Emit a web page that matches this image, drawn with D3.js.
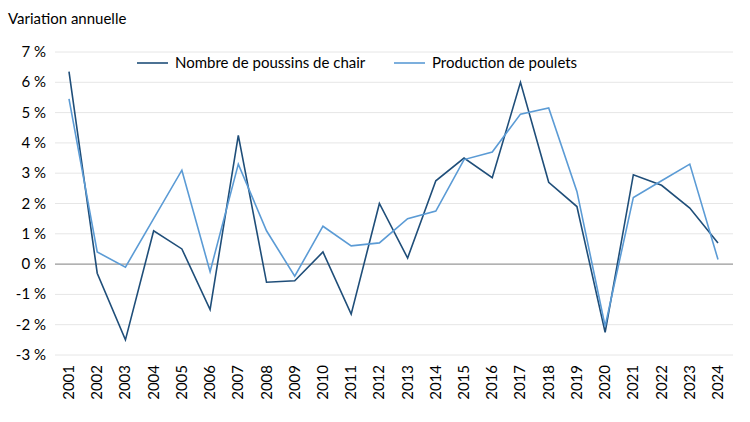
<!DOCTYPE html>
<html><head><meta charset="utf-8">
<script src="https://cdn.jsdelivr.net/npm/d3@7"></script>
<style>body{margin:0;background:#fff}text{font-family:Lato,"Noto Sans",sans-serif;fill:#000}</style>
</head><body><svg id="c" width="750" height="422"></svg>
<script>
"use strict";
const years = d3.range(2001, 2025).map(String);
const poussins = [6.35,-0.3,-2.5,1.1,0.5,-1.5,4.25,-0.6,-0.55,0.4,-1.65,2.0,0.2,2.75,3.5,2.85,6.0,2.7,1.9,-2.25,2.95,2.6,1.85,0.7];
const poulets = [5.45,0.4,-0.1,1.5,3.1,-0.25,3.3,1.1,-0.4,1.25,0.6,0.7,1.5,1.75,3.45,3.7,4.95,5.15,2.4,-2.05,2.2,2.75,3.3,0.15];
const yTicks = d3.range(-3, 8);
const series = [
  {name:'Nombre de poussins de chair', values:poussins, color:'#1f4e79'},
  {name:'Production de poulets', values:poulets, color:'#5b9bd5'}
];

const svg = d3.select('#c');
const x = d3.scalePoint().domain(years).range([69, 718]);
const y = d3.scaleLinear().domain([-3, 7]).range([355, 52]);

// grille
svg.selectAll('line.g').data(yTicks).enter().append('line')
  .attr('x1', 55).attr('x2', 733)
  .attr('y1', d=>y(d)).attr('y2', d=>y(d))
  .attr('stroke', d=>d===0 ? '#7f7f7f' : '#e6e6e6').attr('stroke-width', 1);

svg.selectAll('text.yl').data(yTicks).enter().append('text')
  .attr('x', 46).attr('y', d=>y(d)+5).attr('text-anchor','end')
  .style('font-size','15px').text(d=>d+' %');

svg.selectAll('text.xl').data(years).enter().append('text')
  .attr('transform', d=>`translate(${x(d)+5},365) rotate(-90)`)
  .attr('text-anchor','end').style('font-size','15px').text(d=>d);

svg.append('text').attr('x', 8).attr('y', 24).style('font-size','15px').text('Variation annuelle');

const line = d3.line().x((d,i)=>x(years[i])).y(d=>y(d));
svg.selectAll('path.s').data(series).enter().append('path')
  .attr('d', d=>line(d.values)).attr('fill','none')
  .attr('stroke', d=>d.color).attr('stroke-width', 1.6);

// légende
const lx = [137, 394];
series.forEach((s,i)=>{
  svg.append('line').attr('x1', lx[i]).attr('x2', lx[i]+31).attr('y1', 63).attr('y2', 63)
    .attr('stroke', s.color).attr('stroke-width', 1.6);
  svg.append('text').attr('x', lx[i]+38).attr('y', 68).style('font-size','15px').text(s.name);
});
</script></body></html>
